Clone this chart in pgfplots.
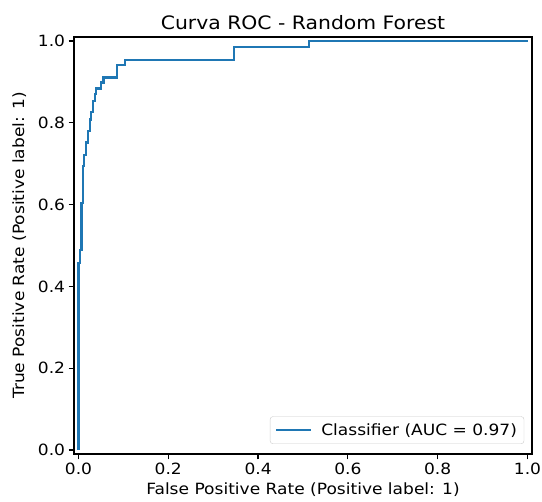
\documentclass[border=0pt]{standalone}
\usepackage{pgfplots}
\pgfplotsset{compat=1.18}
\usepackage{fontspec}
\setmainfont{DejaVu Sans}[FakeStretch=1.1]
\definecolor{tabblue}{HTML}{1F77B4}
\begin{document}
\begin{tikzpicture}
\path[use as bounding box] (-74pt,-48pt) rectangle (468pt,454pt);
\begin{axis}[
  at={(0,0)}, anchor=south west,
  scale only axis, width=458pt, height=417pt,
  xmin=-0.01, xmax=1.01, ymin=-0.01, ymax=1.01,
  xtick={0,0.2,0.4,0.6,0.8,1.0}, ytick={0,0.2,0.4,0.6,0.8,1.0},
  tick align=outside, major tick length=5.4pt,
  xtick pos=bottom, ytick pos=left,
  /pgf/number format/assume math mode=true,
  /pgf/number format/.cd, fixed, fixed zerofill, precision=1, /pgfplots/.cd,
  tick label style={font=\fontsize{15.5}{18}\selectfont},
  label style={font=\fontsize{15.5}{18}\selectfont},
  ylabel style={yshift=5pt},
  xlabel style={yshift=-1pt},
  title style={font=\fontsize{18.5}{21}\selectfont, yshift=-2pt},
  title={Curva ROC - Random Forest},
  xlabel={False Positive Rate (Positive label: 1)},
  ylabel={True Positive Rate (Positive label: 1)},
  axis line style={line width=1.2pt},
  every tick/.style={line width=1.2pt, black},
  legend style={at={(0.983,0.024)}, anchor=south east, draw=black!20, rounded corners=3pt,
    font=\fontsize{15.5}{18}\selectfont, inner xsep=5pt, inner ysep=5pt,
    /tikz/every odd column/.append style={column sep=7pt}},
  legend cell align=left,
  legend image code/.code={\draw[#1, line width=2.2pt] (0pt,0pt) -- (35pt,0pt);},
]
\addplot[tabblue, line width=2.3pt] coordinates {
(0,0) (0,0.457) (0.004,0.457) (0.004,0.489) (0.007,0.489) (0.007,0.604)
(0.0096,0.604) (0.0096,0.694) (0.012,0.694) (0.012,0.722) (0.016,0.722) (0.016,0.752)
(0.021,0.752) (0.021,0.780) (0.025,0.780) (0.025,0.808) (0.028,0.808) (0.028,0.826)
(0.032,0.826) (0.032,0.853) (0.037,0.853) (0.037,0.870) (0.039,0.870) (0.039,0.884)
(0.050,0.884) (0.050,0.899) (0.056,0.899) (0.056,0.911) (0.086,0.911) (0.086,0.942)
(0.103,0.942) (0.103,0.954) (0.346,0.954) (0.346,0.985) (0.514,0.985) (0.514,1.0)
(1,1)
};
\addlegendentry{Classifier (AUC = 0.97)}
\end{axis}
\end{tikzpicture}
\end{document}
